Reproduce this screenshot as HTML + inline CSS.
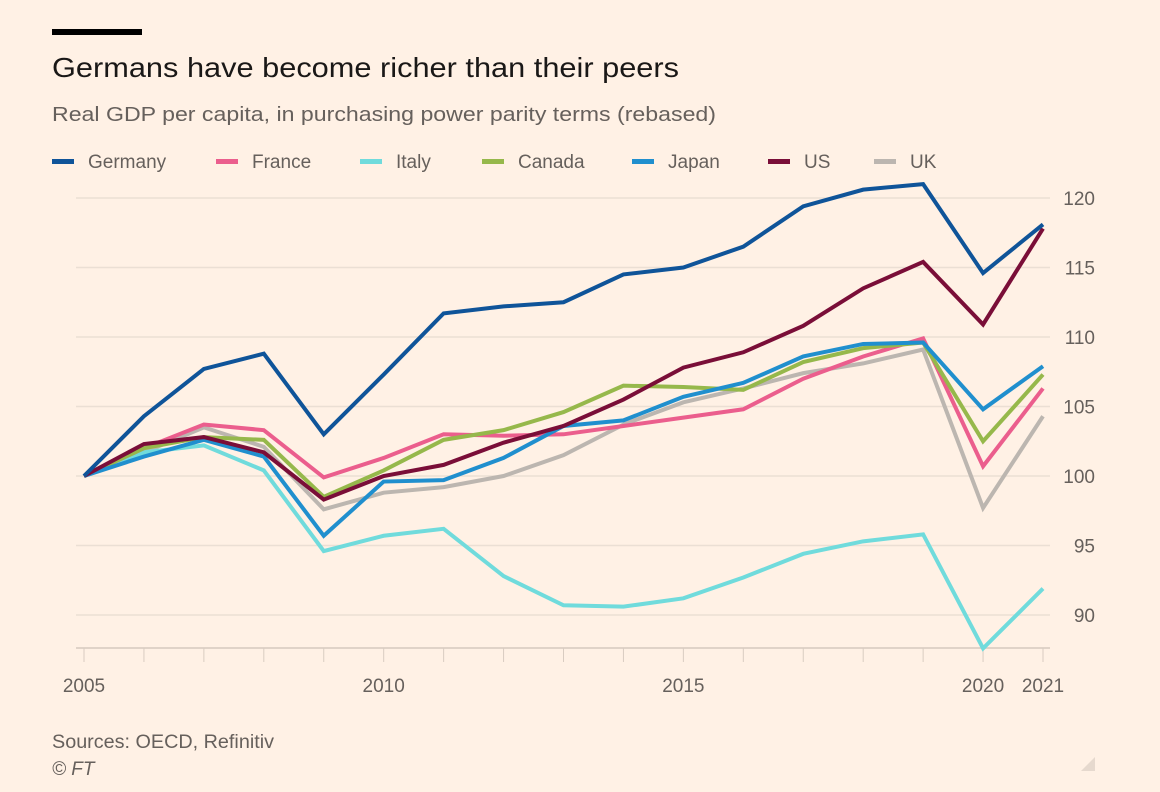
<!DOCTYPE html>
<html><head><meta charset="utf-8"><style>
html,body{margin:0;padding:0;background:#fff1e5;}
svg{display:block;font-family:"Liberation Sans",sans-serif;}
</style></head><body>
<svg id="chart" width="1160" height="792" viewBox="0 0 1160 792">
<rect width="1160" height="792" fill="#fff1e5"/>
<rect x="52" y="29" width="90" height="6" fill="#000"/>
<text x="52" y="77" font-size="28" fill="#1a1817" textLength="627" lengthAdjust="spacingAndGlyphs">Germans have become richer than their peers</text>
<text x="52" y="121" font-size="20" fill="#66605c" textLength="664" lengthAdjust="spacingAndGlyphs">Real GDP per capita, in purchasing power parity terms (rebased)</text>
<g id="legend"></g>
<g id="grid"></g>
<g id="xaxis"></g>
<g id="yaxis"></g>
<g id="series"></g>
<text x="52" y="748" font-size="19" fill="#66605c" textLength="222" lengthAdjust="spacingAndGlyphs">Sources: OECD, Refinitiv</text>
<text x="52" y="775" font-size="19" font-style="italic" fill="#66605c">© FT</text>
<polygon points="1095,757 1095,771 1081,771" fill="#e6d9ce"/>
</svg>
<script>
const years = [2005,2006,2007,2008,2009,2010,2011,2012,2013,2014,2015,2016,2017,2018,2019,2020,2021];
const seriesNames = ["UK","Italy","France","Canada","Japan","US","Germany"];
const germany = [100,104.3,107.7,108.8,103,107.3,111.7,112.2,112.5,114.5,115,116.5,119.4,120.6,121,114.6,118.1];
const france  = [100,102,103.7,103.3,99.9,101.3,103,102.9,103,103.6,104.2,104.8,107,108.6,109.9,100.7,106.3];
const italy   = [100,101.7,102.2,100.4,94.6,95.7,96.2,92.8,90.7,90.6,91.2,92.7,94.4,95.3,95.8,87.6,91.9];
const canada  = [100,102,102.8,102.6,98.5,100.4,102.6,103.3,104.6,106.5,106.4,106.2,108.2,109.2,109.6,102.5,107.3];
const japan   = [100,101.4,102.6,101.4,95.7,99.6,99.7,101.3,103.6,104,105.7,106.7,108.6,109.5,109.6,104.8,107.9];
const us      = [100,102.3,102.8,101.7,98.3,100,100.8,102.4,103.6,105.5,107.8,108.9,110.8,113.5,115.4,110.9,117.8];
const uk      = [100,101.7,103.5,102.1,97.6,98.8,99.2,100,101.5,103.7,105.3,106.3,107.4,108.1,109.1,97.7,104.3];
const yTicks = [90,95,100,105,110,115,120];
const xTickLabels = [2005,2010,2015,2020,2021];
const legendNames = ["Germany","France","Italy","Canada","Japan","US","UK"];

const colors = {Germany:"#0f5499",France:"#eb5e8d",Italy:"#70dbdc",Canada:"#96b84b",Japan:"#208fce",US:"#7a0e38",UK:"#bcb6b0"};
const dataMap = {Germany:germany,France:france,Italy:italy,Canada:canada,Japan:japan,US:us,UK:uk};
const NS="http://www.w3.org/2000/svg";
const x = y => 84 + (y-2005)*(1043-84)/16;
const yS = v => 476 - (v-100)*(476-198)/20;
function mk(tag, attrs, parent){const e=document.createElementNS(NS,tag);for(const k in attrs)e.setAttribute(k,attrs[k]);parent.appendChild(e);return e;}

const grid=document.getElementById('grid'), ya=document.getElementById('yaxis'), xa=document.getElementById('xaxis');
yTicks.forEach(t=>{
  const l=mk('line',{x1:76,x2:1050,y1:yS(t),y2:yS(t),stroke:'#ebdfd4','stroke-width':1.5},grid);
  
  
  const tx=mk('text',{x:1095,y:yS(t)+7,'font-size':19,fill:'#66605c','text-anchor':'end'},ya);
  tx.textContent=t;
  
  
});
const base=mk('line',{x1:76,x2:1050,y1:648,y2:648,stroke:'#e0d3c8','stroke-width':2},xa);


years.forEach(yr=>{
  const tk=mk('line',{x1:x(yr),x2:x(yr),y1:648,y2:662,stroke:'#d9ccc1','stroke-width':1},xa);
  
  
});
xTickLabels.forEach(yr=>{
  const tx=mk('text',{x:x(yr),y:692,'font-size':19,fill:'#66605c','text-anchor':'middle'},xa);
  tx.textContent=yr;
  
  
});
const sg=document.getElementById('series');
seriesNames.forEach(n=>{
  const pts=dataMap[n].map((v,i)=>x(years[i])+','+yS(v)).join(' ');
  const p=mk('polyline',{points:pts,fill:'none',stroke:colors[n],'stroke-width':4,'stroke-linejoin':'miter','stroke-linecap':'butt'},sg);
  
  
});
const lg=document.getElementById('legend');
const lx=[52,216,360,482,632,768,874];
legendNames.forEach((n,i)=>{
  const g=mk('g',{},lg);
  
  
  mk('rect',{x:lx[i],y:159,width:22,height:5,fill:colors[n]},g);
  const t=mk('text',{x:lx[i]+36,y:168,'font-size':19,fill:'#66605c'},g);
  t.textContent=n;
});
</script>
</body></html>
